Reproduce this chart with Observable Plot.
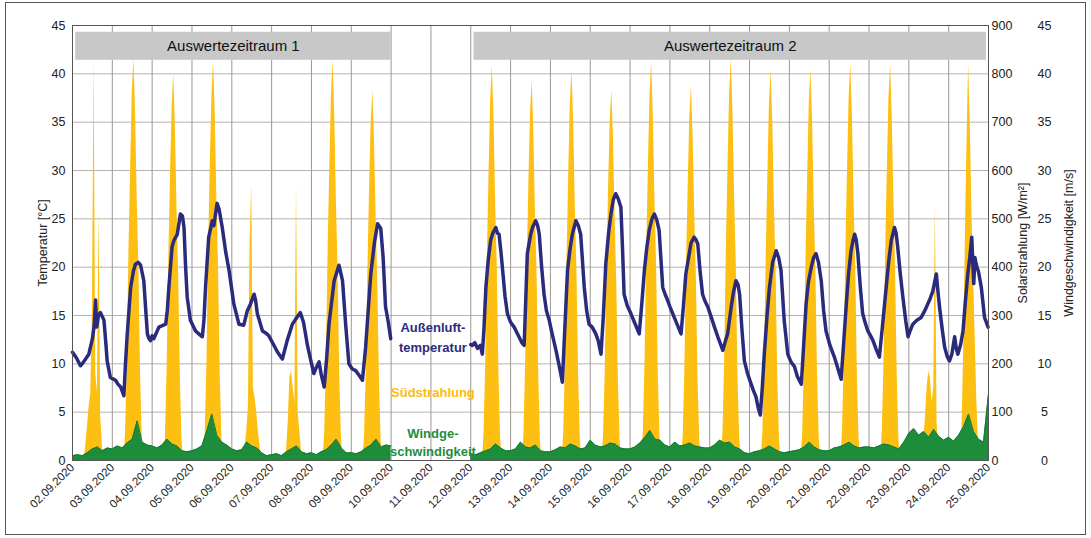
<!DOCTYPE html>
<html>
<head>
<meta charset="utf-8">
<script src="https://cdn.jsdelivr.net/npm/d3@7"></script>
<script src="https://cdn.jsdelivr.net/npm/@observablehq/plot@0.6"></script>
<style>
  body { margin: 0; background: #fff; }
  #wrap { position: relative; width: 1091px; height: 538px; }
  #border { position: absolute; left: 5px; top: 2px; width: 1081px; height: 533px; border: 1px solid #555; box-sizing: border-box; pointer-events: none; }
  #chart { position: absolute; left: 0; top: 0; }
</style>
</head>
<body>
<div id="wrap"><div id="chart"></div><div id="border"></div></div>
<script>
// ---------- DATA ----------
// day offsets are measured from 02.09.2020 00:00
const dayLabels = ["02.09.2020","03.09.2020","04.09.2020","05.09.2020","06.09.2020","07.09.2020","08.09.2020","09.09.2020","10.09.2020","11.09.2020","12.09.2020","13.09.2020","14.09.2020","15.09.2020","16.09.2020","17.09.2020","18.09.2020","19.09.2020","20.09.2020","21.09.2020","22.09.2020","23.09.2020","24.09.2020","25.09.2020"];
const tempTicks = [0,5,10,15,20,25,30,35,40,45];
const solarTicks = [0,100,200,300,400,500,600,700,800,900];
const windTicks = [0,5,10,15,20,25,30,35,40,45];

// Außenlufttemperatur [°C]: [day offset, value]
const tempPeriod1 = [[0,11.2],[0.1,10.6],[0.2,9.8],[0.28,10.2],[0.41,11.0],[0.5,12.6],[0.54,13.8],[0.58,16.6],[0.61,13.8],[0.65,15.0],[0.7,15.3],[0.79,14.5],[0.84,12.0],[0.87,10.3],[0.95,8.6],[1.08,8.3],[1.14,7.9],[1.21,7.6],[1.29,6.7],[1.33,10.0],[1.37,12.8],[1.46,17.9],[1.53,19.6],[1.58,20.3],[1.65,20.5],[1.71,20.2],[1.79,18.6],[1.84,15.5],[1.88,13.1],[1.92,12.6],[1.96,12.4],[2.0,12.9],[2.04,12.6],[2.17,13.8],[2.34,14.1],[2.38,15.5],[2.42,17.9],[2.5,22.1],[2.55,22.8],[2.63,23.4],[2.71,25.5],[2.76,25.3],[2.8,24.1],[2.84,20.0],[2.88,16.9],[2.96,14.5],[3.09,13.4],[3.2,13.0],[3.26,12.8],[3.3,14.5],[3.34,17.9],[3.42,23.1],[3.51,24.8],[3.55,24.3],[3.63,26.6],[3.68,26.0],[3.76,24.1],[3.85,21.5],[3.93,19.7],[4.05,16.2],[4.18,14.1],[4.3,14.0],[4.39,15.5],[4.47,16.2],[4.56,17.2],[4.6,16.5],[4.64,15.2],[4.77,13.4],[4.85,13.2],[4.93,12.9],[5.06,11.9],[5.15,11.2],[5.27,10.5],[5.39,12.4],[5.52,14.1],[5.6,14.6],[5.72,15.3],[5.8,14.3],[5.9,11.9],[5.98,10.4],[6.06,9.0],[6.12,9.6],[6.19,10.2],[6.25,8.8],[6.32,7.6],[6.38,10.5],[6.44,14.1],[6.57,18.6],[6.69,20.2],[6.78,18.6],[6.86,14.0],[6.94,10.0],[7.02,9.5],[7.11,9.3],[7.2,8.8],[7.28,8.3],[7.36,11.7],[7.49,19.3],[7.58,22.5],[7.66,24.5],[7.74,24.0],[7.8,21.0],[7.86,15.9],[7.93,14.3],[7.99,12.6]];
const tempPeriod2 = [[10.0,12.0],[10.04,11.9],[10.1,12.2],[10.17,11.6],[10.24,11.9],[10.29,11.0],[10.33,13.5],[10.38,17.9],[10.44,20.8],[10.5,22.8],[10.56,23.6],[10.63,24.1],[10.67,23.5],[10.71,23.4],[10.76,21.5],[10.8,19.7],[10.86,17.0],[10.92,15.2],[11.0,14.3],[11.09,13.8],[11.15,13.3],[11.21,12.8],[11.28,12.2],[11.34,11.9],[11.38,16.5],[11.42,21.4],[11.5,23.3],[11.55,24.1],[11.63,24.8],[11.68,24.3],[11.72,23.4],[11.78,20.0],[11.84,17.2],[11.9,15.5],[11.97,14.5],[12.05,13.0],[12.14,11.4],[12.22,9.8],[12.3,8.1],[12.36,13.5],[12.43,19.7],[12.49,21.8],[12.55,23.4],[12.64,24.8],[12.7,24.3],[12.76,23.4],[12.85,17.9],[12.91,15.5],[12.97,14.1],[13.05,13.8],[13.14,13.1],[13.2,12.4],[13.27,11.0],[13.33,15.0],[13.39,20.3],[13.46,23.5],[13.52,25.5],[13.58,27.0],[13.64,27.6],[13.7,27.1],[13.77,26.2],[13.81,22.0],[13.85,17.2],[13.93,16.0],[14.02,15.2],[14.12,14.2],[14.23,13.1],[14.3,16.5],[14.36,19.7],[14.42,22.0],[14.48,23.8],[14.55,25.0],[14.61,25.5],[14.67,24.9],[14.73,23.8],[14.78,20.5],[14.82,17.9],[14.88,17.2],[14.94,16.6],[15.02,15.7],[15.11,14.8],[15.2,13.9],[15.28,13.1],[15.34,16.0],[15.4,19.3],[15.47,21.0],[15.53,22.5],[15.61,23.1],[15.66,22.8],[15.7,22.4],[15.76,19.5],[15.82,17.2],[15.88,16.5],[15.95,15.9],[16.04,14.8],[16.12,13.8],[16.22,12.6],[16.33,11.4],[16.39,12.3],[16.45,13.1],[16.54,15.9],[16.6,17.5],[16.66,18.6],[16.71,18.2],[16.75,17.2],[16.81,13.5],[16.87,10.3],[16.95,9.0],[17.04,7.9],[17.1,7.2],[17.16,6.6],[17.22,5.4],[17.27,4.7],[17.32,7.5],[17.37,11.0],[17.44,15.0],[17.5,17.9],[17.58,20.5],[17.67,21.7],[17.73,21.0],[17.79,19.7],[17.87,14.5],[17.96,11.0],[18.04,10.2],[18.13,9.7],[18.2,8.7],[18.3,7.9],[18.36,12.0],[18.42,16.2],[18.48,18.5],[18.55,20.0],[18.61,21.0],[18.67,21.4],[18.73,20.5],[18.8,18.6],[18.86,15.5],[18.92,13.4],[19.02,11.9],[19.13,10.7],[19.22,9.5],[19.3,8.4],[19.36,12.0],[19.43,16.2],[19.49,19.5],[19.55,21.7],[19.6,22.8],[19.64,23.4],[19.68,22.8],[19.72,21.4],[19.78,18.0],[19.84,15.2],[19.9,14.3],[19.97,13.4],[20.04,12.9],[20.1,12.4],[20.18,11.5],[20.26,10.7],[20.34,14.0],[20.43,17.9],[20.5,20.8],[20.56,22.8],[20.64,24.1],[20.68,23.5],[20.72,22.1],[20.78,19.5],[20.85,16.9],[20.92,14.5],[20.98,12.8],[21.04,13.5],[21.1,14.1],[21.2,14.5],[21.31,14.8],[21.4,15.5],[21.52,16.6],[21.6,17.5],[21.69,19.3],[21.73,17.5],[21.77,15.9],[21.84,13.5],[21.9,11.7],[21.96,10.8],[22.02,10.3],[22.08,11.0],[22.15,12.8],[22.19,11.6],[22.23,11.0],[22.3,12.0],[22.36,13.4],[22.42,16.5],[22.48,19.3],[22.53,21.0],[22.58,23.1],[22.61,20.0],[22.63,18.3],[22.66,21.0],[22.69,20.3],[22.75,19.5],[22.82,17.9],[22.9,14.8],[22.99,13.8]];

// Südstrahlung [W/m²]: hourly values 06:00 … 19:00 for each measured day
const solarHours = [6,7,8,9,10,11,12,13,14,15,16,17,18,19];
const solarDays = [0,1,2,3,4,5,6,7,10,11,12,13,14,15,16,17,18,19,20,21,22];
const solarValues = [
  [0,0,30,70,110,140,300,830,180,140,517,90,30,0],
  [0,0,60,200,430,600,760,830,720,540,400,180,50,0],
  [0,0,50,190,410,580,730,800,690,520,380,170,40,0],
  [0,0,60,200,430,610,750,828,720,540,400,180,50,0],
  [0,0,30,60,110,448,572,150,130,100,60,30,10,0],
  [0,0,0,20,80,170,185,150,120,572,100,60,20,0],
  [0,0,60,200,430,600,750,828,720,540,400,180,50,0],
  [0,0,50,180,390,560,700,765,660,500,360,160,40,0],
  [0,0,55,200,420,590,745,817,710,530,395,175,45,0],
  [0,0,50,190,400,570,720,786,680,510,380,170,40,0],
  [0,0,55,195,415,585,740,807,700,525,390,175,45,0],
  [0,0,50,180,390,555,700,766,665,500,365,160,40,0],
  [0,0,60,200,430,600,755,824,715,540,400,180,50,0],
  [0,0,50,185,400,565,710,776,670,505,370,165,40,0],
  [0,0,60,205,435,605,760,831,720,545,405,180,50,0],
  [0,0,55,195,415,585,740,807,700,525,390,175,45,0],
  [0,0,55,195,415,585,740,810,700,525,390,175,45,0],
  [0,0,60,200,425,595,750,821,710,535,395,175,45,0],
  [0,0,60,200,425,595,750,821,710,535,395,175,45,0],
  [0,0,10,40,90,150,185,170,120,150,531,80,20,0],
  [0,0,60,220,450,650,821,697,520,380,250,120,30,0]
];

// Windgeschwindigkeit [m/s]: 3-hourly values 00:00 … 21:00 for each measured day
const windHours = [0,3,6,9,12,15,18,21];
const windDays = [0,1,2,3,4,5,6,7,10,11,12,13,14,15,16,17,18,19,20,21,22];
const windValues = [
  [0.5,0.6,0.5,0.8,1.2,1.4,1.0,1.3],
  [1.2,1.5,1.3,1.8,2.2,4.1,1.9,1.6],
  [1.5,1.3,1.6,2.2,1.7,1.5,1.0,0.9],
  [1.0,1.2,1.5,3.1,4.8,2.6,1.9,1.6],
  [1.2,1.0,1.1,1.9,1.5,1.3,0.8,0.5],
  [0.6,0.7,0.5,0.9,1.2,1.5,0.9,0.7],
  [0.8,0.6,0.9,1.1,1.6,2.2,1.3,0.8],
  [0.8,0.7,0.9,1.3,1.6,2.2,1.4,1.6],
  [0.7,0.6,0.8,1.0,1.2,1.7,1.3,1.0],
  [1.0,1.2,1.9,1.4,1.3,1.6,1.0,0.9],
  [0.9,1.1,1.4,1.3,1.7,1.5,1.2,1.3],
  [2.1,1.6,1.4,1.5,1.8,1.7,1.3,1.2],
  [1.2,1.4,1.8,2.4,3.1,2.2,2.1,1.6],
  [1.4,1.9,1.5,1.6,1.8,1.5,1.4,1.3],
  [1.3,1.6,2.1,1.8,1.9,1.4,1.2,0.8],
  [0.7,0.9,1.0,1.2,1.5,1.2,0.9,0.8],
  [0.9,1.0,1.1,1.4,1.9,1.4,1.1,1.0],
  [1.0,1.3,1.4,1.6,1.9,1.5,1.3,1.4],
  [1.4,1.3,1.5,1.7,1.6,1.4,1.2,1.9],
  [2.8,3.3,2.6,3.0,2.4,3.2,2.5,2.1],
  [2.4,2.0,2.6,3.5,4.8,3.0,2.2,1.9]
];
const windEnd = [[8.0,1.5],[23.0,6.9]];

// Evaluation periods
const periodNames = ["Auswertezeitraum 1","Auswertezeitraum 2"];
const periodStart = [0.08,10.08];
const periodEnd = [8.0,22.95];

// Inline series labels
const seriesLabelLines = [["Außenluft-","temperatur"],["Südstrahlung"],["Windge-","schwindigkeit"]];

// ---------- BUILD ----------
const start = Date.UTC(2020, 8, 2);
const toDate = d => new Date(start + d * 864e5);
const C_TEMP = "#2b2b7d", C_SUN = "#fdbf12", C_WIND = "#1e8d3b";

const tempRows = [
  ...tempPeriod1.map(([d, v]) => ({t: toDate(d), v, seg: 1})),
  ...tempPeriod2.map(([d, v]) => ({t: toDate(d), v, seg: 2}))
];
const solarRows = solarDays.flatMap((day, i) =>
  solarHours.map((h, j) => ({t: toDate(day + h / 24), s: solarValues[i][j], day})));
const windRows = windDays.flatMap((day, i) =>
  windHours.map((h, j) => ({t: toDate(day + h / 24), v: windValues[i][j], seg: day < 9 ? 1 : 2})));
windRows.push(...windEnd.map(([d, v]) => ({t: toDate(d), v, seg: d < 9 ? 1 : 2})));
windRows.sort((a, b) => a.t - b.t);

const dayTicks = dayLabels.map((_, i) => toDate(i));
const bands = periodNames.map((name, i) => ({name, x1: toDate(periodStart[i]), x2: toDate(periodEnd[i]), xm: toDate((periodStart[i] + periodEnd[i]) / 2)}));

const labelColors = [C_TEMP, "#fbbd0c", C_WIND];
const labelY = [[13.75, 11.7], [7.0], [2.75, 0.85]];
const labelRows = seriesLabelLines.flatMap((lines, i) =>
  lines.map((text, j) => ({text, color: labelColors[i], y: labelY[i][j], t: toDate(9.05)})));

const chart = Plot.plot({
  width: 1091,
  height: 538,
  marginLeft: 72,
  marginRight: 103,
  marginTop: 25,
  marginBottom: 78,
  style: {fontFamily: "'Liberation Sans', Arial, sans-serif", fontSize: "12.5px", background: "transparent", color: "#222"},
  x: {type: "utc", domain: [toDate(0), toDate(23)]},
  y: {domain: [0, 45]},
  marks: [
    Plot.gridY(tempTicks, {stroke: "#b8b2ad", strokeOpacity: 1}),
    Plot.gridX(dayTicks, {stroke: "#9c9795", strokeOpacity: 1}),
    Plot.areaY(solarRows, {x: "t", y1: 0, y2: d => d.s / 20, z: "day", fill: C_SUN, fillOpacity: 1}),
    Plot.rect(bands, {x1: "x1", x2: "x2", y1: 41.4, y2: 44.3, fill: "#c8c8c8"}),
    Plot.text(bands, {x: "xm", y: 42.85, text: "name", fontSize: 15, fill: "#111"}),
    Plot.areaY(windRows, {x: "t", y1: 0, y2: "v", z: "seg", fill: C_WIND}),
    Plot.line(windRows, {x: "t", y: "v", z: "seg", stroke: "#167a33", strokeWidth: 1}),
    Plot.line(tempRows, {x: "t", y: "v", z: "seg", stroke: C_TEMP, strokeWidth: 3.5, strokeLinejoin: "round"}),
    Plot.text(labelRows, {x: "t", y: "y", text: "text", fill: "color", fontWeight: "bold", fontSize: 13}),
    Plot.frame({stroke: "#555"}),
    Plot.axisX(dayTicks, {tickFormat: (d, i) => dayLabels[i], tickRotate: -45, tickSize: 0, tickPadding: 5, label: null, fontSize: 11.5}),
    Plot.axisY(tempTicks, {anchor: "left", tickSize: 0, tickPadding: 7, label: "Temperatur [°C]", labelAnchor: "center", labelOffset: 34, labelArrow: false}),
    Plot.axisY(tempTicks, {anchor: "right", tickSize: 0, tickPadding: 3, tickFormat: (d, i) => solarTicks[i], label: "Solarstrahlung [W/m²]", labelAnchor: "center", labelOffset: 38, labelArrow: false}),
    Plot.axisY(tempTicks, {anchor: "right", tickSize: 0, tickPadding: 56, textAnchor: "middle", tickFormat: (d, i) => windTicks[i], label: "Windgeschwindigkeit [m/s]", labelAnchor: "center", labelOffset: 84, labelArrow: false})
  ]
});
document.getElementById("chart").appendChild(chart);
</script>
</body>
</html>
